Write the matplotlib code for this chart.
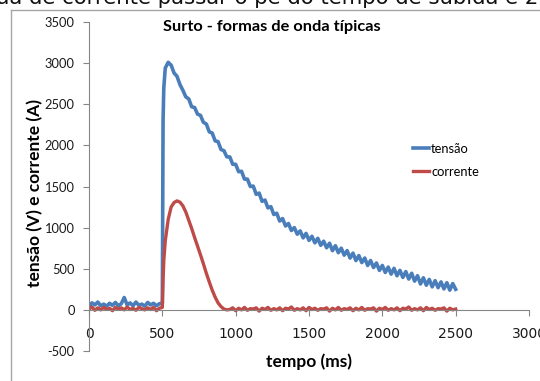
import numpy as np
import matplotlib
matplotlib.use("Agg")
import matplotlib.pyplot as plt
from matplotlib.lines import Line2D

# ---- dados ----
t_base = np.arange(0, 481, 20)          # 0..480 ms
t_rise = [500, 505, 510]
t_tail = np.arange(520, 2501, 20)       # 520..2500 ms
tempo = np.concatenate([t_base, t_rise, t_tail])

tensao_base = [40, 85, 60, 95, 50, 70, 45, 80, 55, 90, 50, 75, 150, 60, 85, 50, 95, 55, 70, 45, 90, 60, 80, 50, 75]
tensao_rise = [80, 2300, 2700]
tensao_tail = [2940, 3010, 2975, 2880, 2840, 2740, 2670, 2590, 2565, 2470,
               2460, 2380, 2365, 2280, 2260, 2165, 2150, 2055, 2045, 1950,
               1935, 1860, 1860, 1770, 1770, 1680, 1685, 1590, 1590, 1500,
               1505, 1405, 1420, 1320, 1335, 1240, 1255, 1160, 1175, 1080,
               1110, 1020, 1050, 965, 1000, 920, 960, 875, 930, 845,
               895, 815, 870, 785, 835, 755, 810, 720, 780, 695,
               750, 665, 720, 630, 690, 600, 660, 575, 630, 540,
               600, 515, 570, 480, 540, 455, 520, 435, 505, 415,
               480, 395, 465, 375, 445, 350, 415, 315, 390, 300,
               370, 280, 355, 270, 340, 255, 330, 240, 320, 250]
tensao = tensao_base + tensao_rise + tensao_tail

corrente_base = [10, 35, -5, 25, 0, 30, 5, 20, -10, 30, 10, 25, 0, 35, 5, 20, -5, 30, 15, 0, 25, 5, 30, -10, 20]
corrente_rise = [30, 366, 600]
corrente_pulso = [840, 1100, 1250, 1305, 1325, 1310, 1265, 1190, 1090, 990,
                  880, 775, 670, 560, 445, 340, 240, 155, 85, 40, 10, 0]
corrente_resto = [5, 25, -10, 20, 0, 30, -5, 15, 10, 25,
                  -15, 20, 5, 30, -5, 15, 0, 25, -10, 20,
                  10, 35, -5, 15, 0, 25, -10, 30, 5, 20,
                  -5, 15, 10, 25, -15, 20, 0, 30, -5, 15,
                  5, 25, -10, 20, 0, 30, -5, 15, 10, 25,
                  -15, 20, 5, 30, -5, 15, 0, 25, -10, 20,
                  10, 35, -5, 15, 0, 25, -10, 30, 5, 20,
                  -5, 15, 10, 25, -15, 20, 0, 10]
corrente = corrente_base + corrente_rise + corrente_pulso + corrente_resto

x_ticks = [0, 500, 1000, 1500, 2000, 2500, 3000]
y_ticks = [-500, 0, 500, 1000, 1500, 2000, 2500, 3000, 3500]

AZUL = "#4A7EBB"
VERMELHO = "#BE4B48"
CINZA = "#868686"
FONTE = ["Lato", "DejaVu Sans"]

W, H = 540, 381
fig = plt.figure(figsize=(W / 100, H / 100), dpi=100)

# texto do documento (cortado no topo)
fig.text(-4 / W, 1 - 4.5 / H, "ua de corrente passar o pé do tempo de subida e 2",
         fontsize=15.3, family="DejaVu Sans", va="baseline", ha="left", color="#111111")

# moldura do gráfico
fig.add_artist(Line2D([11 / W, 1.0], [1 - 10 / H, 1 - 10 / H], color="#a6a6a6", lw=1))
fig.add_artist(Line2D([11 / W, 11 / W], [1 - 10 / H, 0.0], color="#a6a6a6", lw=1))

ax = fig.add_axes([89 / W, 1 - 351 / H, (529 - 89) / W, (351 - 22) / H])
ax.plot(tempo, tensao, color=AZUL, lw=2.6, label="tensão")
ax.plot(tempo, corrente, color=VERMELHO, lw=2.4, label="corrente")

ax.set_xlim(0, 3000)
ax.set_ylim(-500, 3500)
ax.set_xticks(x_ticks)
ax.set_yticks(y_ticks)
ax.set_xticklabels([str(v) for v in x_ticks], family=FONTE, fontsize=9.3)
ax.set_yticklabels([str(v) for v in y_ticks], family=FONTE, fontsize=9.3)

for s in ("top", "right"):
    ax.spines[s].set_visible(False)
ax.spines["bottom"].set_position(("data", 0))
ax.spines["left"].set_color(CINZA)
ax.spines["bottom"].set_color(CINZA)
ax.tick_params(axis="both", direction="out", length=4.3, color=CINZA, labelcolor="#1a1a1a")
ax.tick_params(axis="x", pad=8)
ax.tick_params(axis="y", pad=6)
ax.patch.set_alpha(0)

fig.text(272 / W, 1 - 27 / H, "Surto - formas de onda típicas", family=FONTE,
         fontsize=11.8, fontweight="bold", ha="center", va="center")
fig.text(309 / W, 1 - 362 / H, "tempo (ms)", family=FONTE,
         fontsize=12.5, fontweight="bold", ha="center", va="center")
fig.text(35 / W, 1 - 193 / H, "tensão (V) e corrente (A)", family=FONTE,
         fontsize=12.5, fontweight="bold", ha="center", va="center", rotation=90)

ax.legend(loc="upper left", bbox_to_anchor=(413 / W, 1 - 143 / H),
          bbox_transform=fig.transFigure, frameon=False, prop={"family": FONTE, "size": 9.3},
          handlelength=1.2, handletextpad=0.2, labelspacing=0.85, borderpad=0, borderaxespad=0)

fig.savefig("out.png", dpi=100)
